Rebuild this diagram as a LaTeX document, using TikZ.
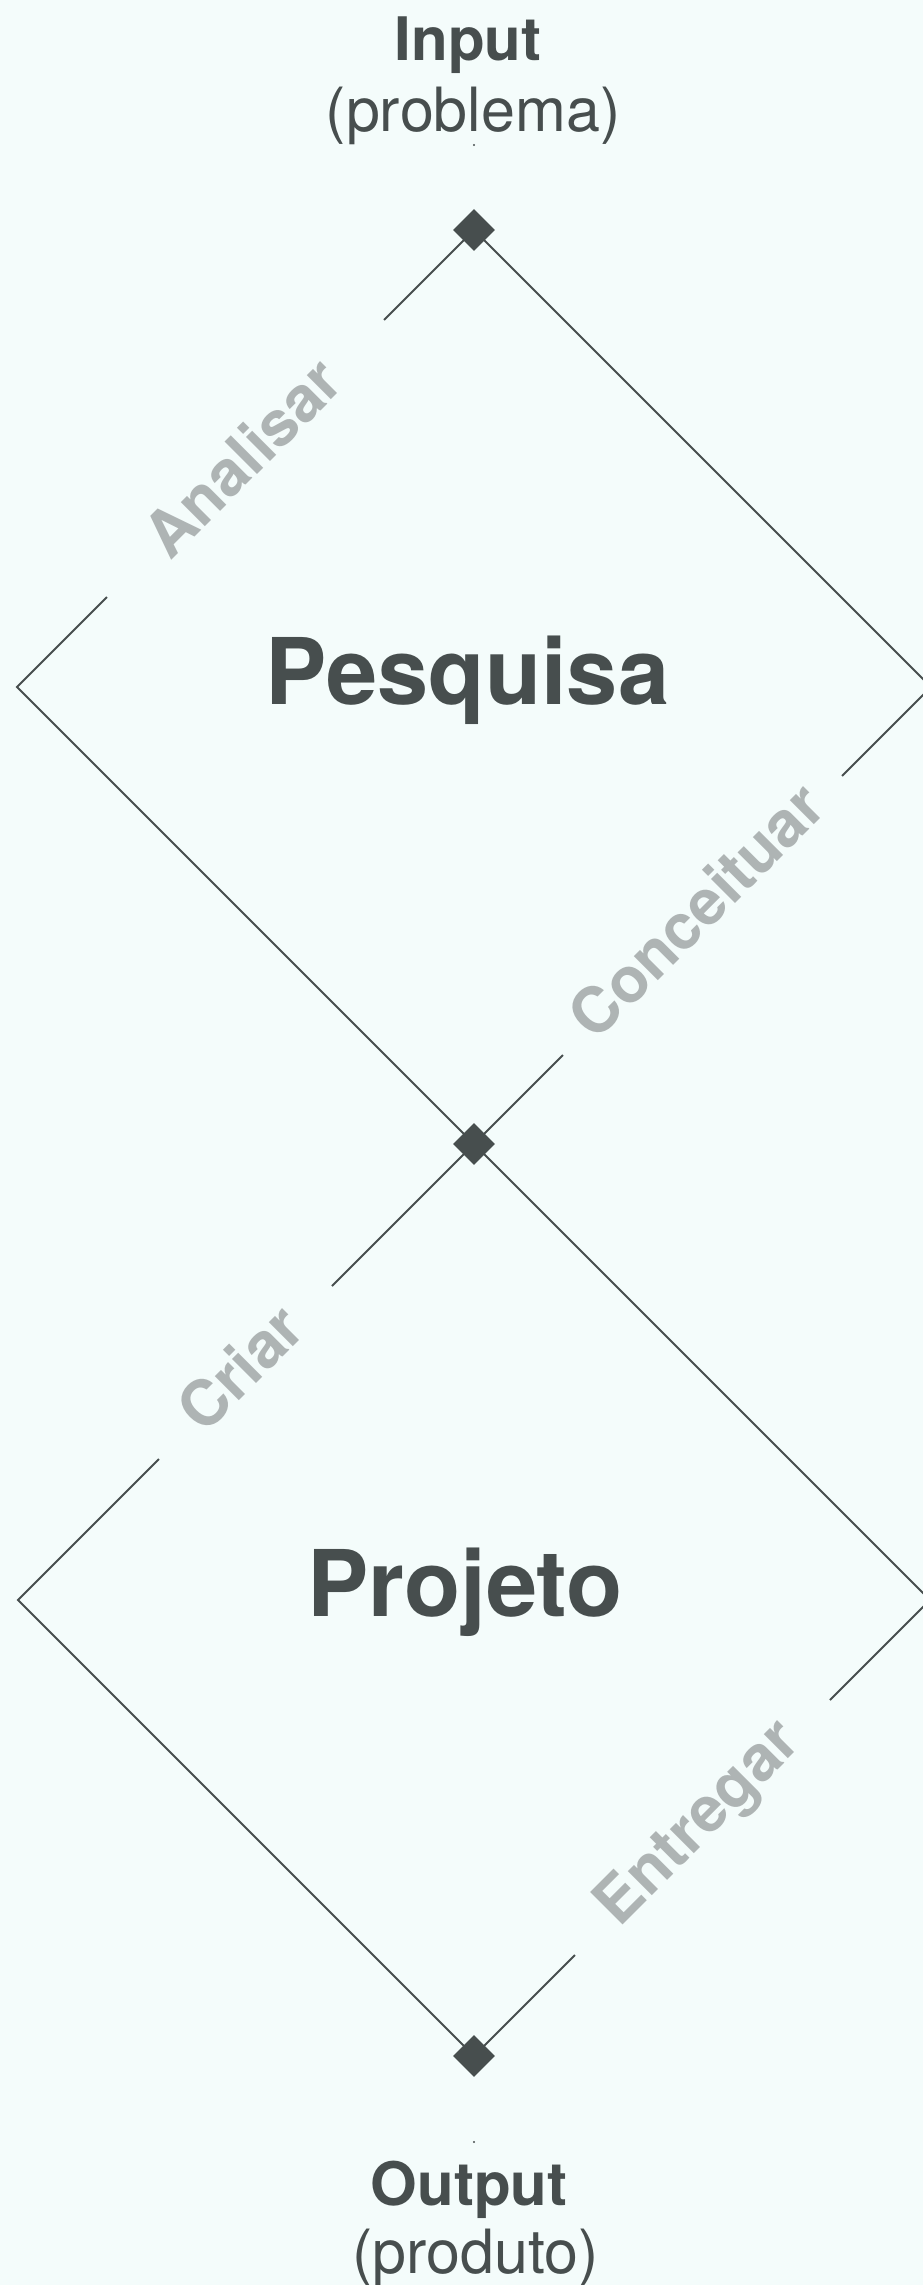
\documentclass[tikz,border=0pt]{standalone}
\usepackage{fontspec}
\setmainfont{TeX Gyre Heros}
\definecolor{bg}{RGB}{244,252,251}
\definecolor{ink}{RGB}{71,78,78}
\definecolor{soft}{RGB}{174,180,180}
\begin{document}
\begin{tikzpicture}[x=1pt,y=-1pt,
  edge/.style={draw=ink,line width=2pt},
  marker/.style={fill=ink,rectangle,rotate=45,minimum size=29.5pt,inner sep=0pt},
  title/.style={text=ink,font=\fontsize{60}{72}\selectfont\bfseries,inner sep=0pt,anchor=base},
  sub/.style={text=ink,font=\fontsize{61}{72}\selectfont,inner sep=0pt,anchor=base},
  phase/.style={text=ink,font=\fontsize{92}{100}\selectfont\bfseries,inner sep=0pt,anchor=base},
  verb/.style={text=soft,font=\fontsize{63}{72}\selectfont\bfseries,inner sep=0pt,rotate=45}]
\fill[bg] (0,0) rectangle (923,2285);
\useasboundingbox (0,0) rectangle (923,2285);
\clip (0,0) rectangle (923,2285);

% vertices and gap ends
\coordinate (L1) at (17,687);
\coordinate (R1) at (931,687);
\coordinate (L2) at (18,1600);
\coordinate (R2) at (930,1600);
\coordinate (a1) at (384,320);
\coordinate (a2) at (107,597);
\coordinate (b1) at (842,776);
\coordinate (b2) at (563,1055);
\coordinate (c1) at (332,1286);
\coordinate (c2) at (159,1459);
\coordinate (d1) at (830,1700);
\coordinate (d2) at (575,1955);
\coordinate (p1) at (474,145);
\coordinate (p2) at (474,2142);

% markers
\node[marker] (m1) at (474,230) {};
\node[marker] (m2) at (474,1144) {};
\node[marker] (m3) at (474,2056) {};

% edges
\draw[edge] (m1.center) -- (a1);
\draw[edge] (a2) -- (L1) -- (m2.center);
\draw[edge] (m1.center) -- (R1) -- (b1);
\draw[edge] (b2) -- (m2.center);
\draw[edge] (m2.center) -- (c1);
\draw[edge] (c2) -- (L2) -- (m3.center);
\draw[edge] (m2.center) -- (R2) -- (d1);
\draw[edge] (d2) -- (m3.center);

\fill[ink] (p1) circle (1.1);
\fill[ink] (p2) circle (1.1);

% texts
\node[title] (in) at (468,61) {Input};
\node[sub] (inp) at (473,131.7) {(problema)};
\node[title] (out) at (469,2205) {Output};
\node[sub] (outp) at (475.5,2273) {(produto)};
\node[phase] (pes) at (467.4,704) {Pesquisa};
\node[phase] (pro) at (465,1616) {Projeto};

\node[verb] (v1) at (242,457) {Analisar};
\node[verb] (v2) at (696,910) {Conceituar};
\node[verb] (v3) at (240,1367.5) {Criar};
\node[verb] (v4) at (700,1825) {Entregar};
\end{tikzpicture}
\end{document}
